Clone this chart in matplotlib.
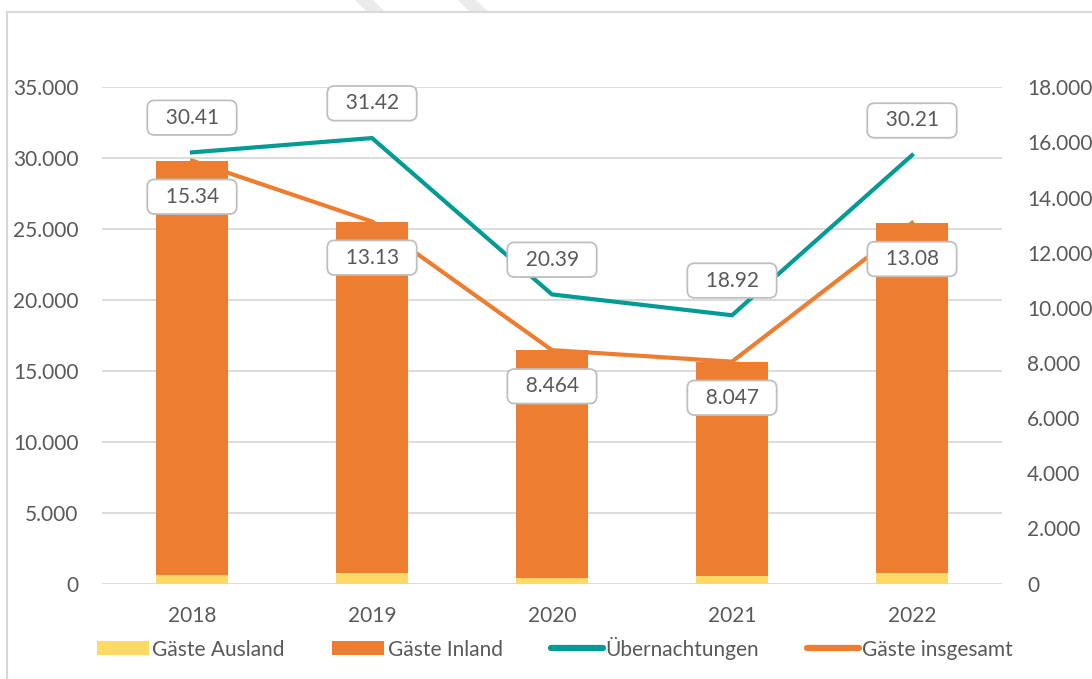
import matplotlib
matplotlib.use("Agg")
import matplotlib.pyplot as plt
from matplotlib.ticker import FuncFormatter, MultipleLocator
from matplotlib.lines import Line2D
from matplotlib.patches import Patch, Polygon

years = ["2018", "2019", "2020", "2021", "2022"]
gaeste_ausland = [300, 390, 210, 290, 370]
gaeste_inland = [15040, 12740, 8254, 7757, 12710]
uebernachtungen = [30410, 31420, 20390, 18920, 30210]
gaeste_insgesamt = [15340, 13130, 8464, 8047, 13080]
label_ueb = ["30.41", "31.42", "20.39", "18.92", "30.21"]
label_gi = ["15.34", "13.13", "8.464", "8.047", "13.08"]

YELLOW = "#FFD966"
ORANGE = "#ED7D31"
TEAL = "#009B95"
GRID = "#D9D9D9"
TXT = "#595959"

plt.rcParams["font.family"] = ["Lato", "DejaVu Sans"]
plt.rcParams["font.size"] = 15

fig = plt.figure(figsize=(10.92, 6.79), dpi=100)
W, H = 1092, 679

# border and faint watermark stripes
fig.add_artist(Line2D([7 / W, 1], [1 - 12 / H, 1 - 12 / H], transform=fig.transFigure, color=GRID, lw=1.5))
fig.add_artist(Line2D([7 / W, 7 / W], [1 - 12 / H, 0], transform=fig.transFigure, color=GRID, lw=1.5))
for x0 in (355, 458):
    fig.add_artist(Polygon([[x0 / W, 1], [(x0 + 18) / W, 1], [(x0 + 30) / W, 1 - 12 / H], [(x0 + 12) / W, 1 - 12 / H]],
                           closed=True, transform=fig.transFigure, facecolor="#EBEBEB", edgecolor="none"))

left, right = 102 / W, 1002 / W
bottom, top = 1 - 583.5 / H, 1 - 87.3 / H
ax = fig.add_axes([left, bottom, right - left, top - bottom])
ax2 = ax.twinx()
ax3 = ax.twinx()
ax.set_zorder(0)
ax2.set_zorder(1)
ax3.set_zorder(2)
ax2.patch.set_visible(False)
ax3.patch.set_visible(False)

x = list(range(len(years)))
fmt = FuncFormatter(lambda v, p: f"{int(round(v)):,}".replace(",", "."))

# left axis (grid)
ax.set_ylim(0, 35000)
ax.yaxis.set_major_locator(MultipleLocator(5000))
ax.yaxis.set_major_formatter(fmt)
ax.grid(axis="y", color=GRID, lw=1.3)
ax.set_axisbelow(True)
ax.set_xlim(-0.5, len(years) - 0.5)
ax.set_xticks(x)
ax.set_xticklabels(years)
ax.tick_params(axis="both", length=0, colors=TXT, labelsize=15)
ax.tick_params(axis="y", pad=17)
ax.tick_params(axis="x", pad=16)

# right axis: bars and Gäste insgesamt
ax2.set_ylim(0, 18000)
ax2.yaxis.set_major_locator(MultipleLocator(2000))
ax2.yaxis.set_major_formatter(fmt)
ax2.tick_params(axis="y", length=0, colors=TXT, labelsize=15, pad=18)
ax2.bar(x, gaeste_ausland, width=0.405, color=YELLOW, zorder=2)
ax2.bar(x, gaeste_inland, width=0.405, bottom=gaeste_ausland, color=ORANGE, zorder=2)
ax2.plot(x, gaeste_insgesamt, color=ORANGE, lw=3, zorder=3, solid_joinstyle="miter")

bbox = dict(boxstyle="round,pad=0.35,rounding_size=0.35", fc="white", ec="#BFBFBF", lw=1.3)
for xi, yi, lab in zip(x, gaeste_insgesamt, label_gi):
    ax2.annotate(f"  {lab}  ", (xi, yi), xytext=(0, -26), textcoords="offset points",
                 ha="center", va="center", color=TXT, fontsize=15, bbox=bbox, zorder=5)

# overlay: Übernachtungen on left scale
ax3.set_ylim(0, 35000)
ax3.set_yticks([])
ax3.plot(x, uebernachtungen, color=TEAL, lw=3, zorder=3, solid_joinstyle="miter")
for xi, yi, lab in zip(x, uebernachtungen, label_ueb):
    ax3.annotate(f"  {lab}  ", (xi, yi), xytext=(0, 25), textcoords="offset points",
                 ha="center", va="center", color=TXT, fontsize=15, bbox=bbox, zorder=5)

for a in (ax, ax2, ax3):
    for s in a.spines.values():
        s.set_visible(False)

handles = [
    Patch(facecolor=YELLOW, edgecolor="none"),
    Patch(facecolor=ORANGE, edgecolor="none"),
    Line2D([], [], color=TEAL, lw=4.5, solid_capstyle="round"),
    Line2D([], [], color=ORANGE, lw=4.5, solid_capstyle="round"),
]
labels = ["Gäste Ausland", "Gäste Inland", "Übernachtungen", "Gäste insgesamt"]
leg = fig.legend(handles, labels, loc="center", bbox_to_anchor=((left + right) / 2 + 3 / W, 1 - 648 / H),
                 ncol=4, frameon=False, fontsize=15, handlelength=2.5, handleheight=0.67,
                 handletextpad=0.15, columnspacing=2.3, labelcolor=TXT, borderaxespad=0)

fig.savefig("out.png", dpi=100)
